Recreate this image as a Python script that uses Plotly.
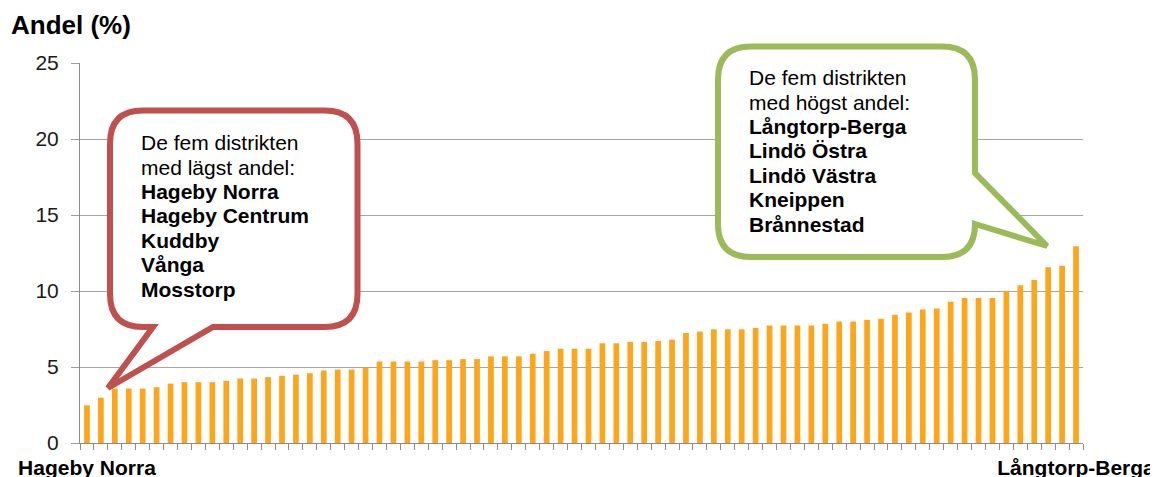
import plotly.graph_objects as go

# ---------------- data ----------------
shares = [2.48, 2.98, 3.58, 3.58, 3.58, 3.67, 3.91, 4.0, 4.0, 4.0,
          4.09, 4.24, 4.24, 4.33, 4.42, 4.5, 4.59, 4.77, 4.83, 4.83,
          4.95, 5.36, 5.36, 5.36, 5.36, 5.45, 5.45, 5.52, 5.52, 5.7,
          5.7, 5.7, 5.87, 6.05, 6.2, 6.2, 6.2, 6.56, 6.56, 6.65,
          6.65, 6.71, 6.8, 7.24, 7.33, 7.48, 7.48, 7.48, 7.57, 7.73,
          7.73, 7.73, 7.73, 7.84, 7.99, 7.99, 8.1, 8.17, 8.44, 8.59,
          8.79, 8.85, 9.3, 9.54, 9.54, 9.54, 10.0, 10.38, 10.73, 11.57,
          11.66, 12.94]
ranks = list(range(1, len(shares) + 1))
end_labels = ["Hageby Norra", "Långtorp-Berga"]
y_ticks = [0, 5, 10, 15, 20, 25]
lowest_five = ["Hageby Norra", "Hageby Centrum", "Kuddby", "Vånga", "Mosstorp"]
highest_five = ["Långtorp-Berga", "Lindö Östra", "Lindö Västra", "Kneippen", "Brånnestad"]
low_intro = ["De fem distrikten", "med lägst andel:"]
high_intro = ["De fem distrikten", "med högst andel:"]

# ---------------- layout geometry (pixels, page coordinates) ----------------
W, H = 1158, 477
OFF = 8                       # page body margin offset
PL, PR, PT, PB = 80, 1083, 63, 443   # plot area in page pixels
ML, MT = PL - OFF, PT - OFF
MR = W - (PR - OFF)
MB = H - (PB - OFF)
PW = PR - PL
PH = PB - PT
FONT = "Arial, Liberation Sans, sans-serif"


def fx(px):
    return (px - PL) / PW


def fy(py):
    return (PB - py) / PH


def bubble_path(pts):
    out = []
    for cmd, coords in pts:
        if cmd == "Z":
            out.append("Z")
            continue
        out.append(cmd + " " + " ".join(f"{fx(x):.5f},{fy(y):.5f}" for x, y in coords))
    return " ".join(out)


fig = go.Figure()
fig.add_trace(go.Bar(x=ranks, y=shares, marker=dict(color="#FDA61C", line=dict(width=0)),
                     hoverinfo="y"))

r = 33
# red callout (low)
L, T, R, B = 110, 110.5, 357.5, 327
red = bubble_path([
    ("M", [(L + r, T)]), ("L", [(R - r, T)]), ("Q", [(R, T), (R, T + r)]),
    ("L", [(R, B - r)]), ("Q", [(R, B), (R - r, B)]),
    ("L", [(213, B)]), ("L", [(108, 388)]), ("L", [(153, B)]),
    ("L", [(L + r, B)]), ("Q", [(L, B), (L, B - r)]),
    ("L", [(L, T + r)]), ("Q", [(L, T), (L + r, T)]), ("Z", []),
])
# green callout (high)
L2, T2, R2, B2 = 718, 46.5, 975, 257
green = bubble_path([
    ("M", [(L2 + r, T2)]), ("L", [(R2 - r, T2)]), ("Q", [(R2, T2), (R2, T2 + r)]),
    ("L", [(R2, 173)]), ("L", [(1047, 246)]), ("L", [(R2, 224)]),
    ("Q", [(R2, B2), (R2 - r, B2)]),
    ("L", [(L2 + r, B2)]), ("Q", [(L2, B2), (L2, B2 - r)]),
    ("L", [(L2, T2 + r)]), ("Q", [(L2, T2), (L2 + r, T2)]), ("Z", []),
])

shapes = [
    dict(type="path", path=red, xref="paper", yref="paper", fillcolor="white",
         line=dict(color="#C0504D", width=6), layer="above"),
    dict(type="path", path=green, xref="paper", yref="paper", fillcolor="white",
         line=dict(color="#9BBB59", width=6), layer="above"),
]

annotations = []
LINE = 24.4
FS = 21


def add_lines(x_px, first_baseline, intro, names):
    lines = [(t, False) for t in intro] + [(t, True) for t in names]
    for i, (t, bold) in enumerate(lines):
        base = first_baseline + i * LINE
        annotations.append(dict(
            text=f"<b>{t}</b>" if bold else t,
            x=fx(x_px), y=fy(base - 7.3), xref="paper", yref="paper",
            xanchor="left", yanchor="middle", showarrow=False,
            font=dict(family=FONT, size=FS, color="#000000")))


add_lines(139, 150, low_intro, lowest_five)
add_lines(747, 85, high_intro, highest_five)

# y-axis title
annotations.append(dict(text="<b>Andel (%)</b>", x=fx(9), y=fy(25), xref="paper", yref="paper",
                        xanchor="left", yanchor="middle", showarrow=False,
                        font=dict(family=FONT, size=26, color="#000000")))

fig.update_layout(
    width=W, height=H,
    margin=dict(l=ML, r=MR, t=MT, b=MB, pad=0, autoexpand=False),
    paper_bgcolor="white", plot_bgcolor="white",
    bargap=0.59, showlegend=False,
    shapes=shapes, annotations=annotations,
    xaxis=dict(range=[0.5, len(shares) + 0.5], tickmode="array", automargin=False,
               tickvals=[ranks[0], ranks[-1]], ticktext=[f"<b>{t}</b>" for t in end_labels],
               ticks="", ticklen=0, ticklabelstandoff=6,
               tickfont=dict(family=FONT, size=21, color="#000000"),
               showgrid=False, zeroline=False, showline=True, linecolor="#8C8C8C", linewidth=1,
               minor=dict(tickmode="linear", tick0=0.5, dtick=1, ticks="outside", ticklen=6,
                          tickcolor="#8C8C8C", tickwidth=1, showgrid=False)),
    yaxis=dict(range=[0, 25], tickmode="array", tickvals=y_ticks, automargin=False,
               ticks="outside", ticklen=8, tickcolor="#A0A0A0", ticklabelstandoff=8,
               tickfont=dict(family=FONT, size=21, color="#1A1A1A"),
               showgrid=True, gridcolor="#A6A6A6", gridwidth=1, zeroline=False,
               showline=True, linecolor="#8C8C8C", linewidth=1),
)

fig.write_html("out.html")
